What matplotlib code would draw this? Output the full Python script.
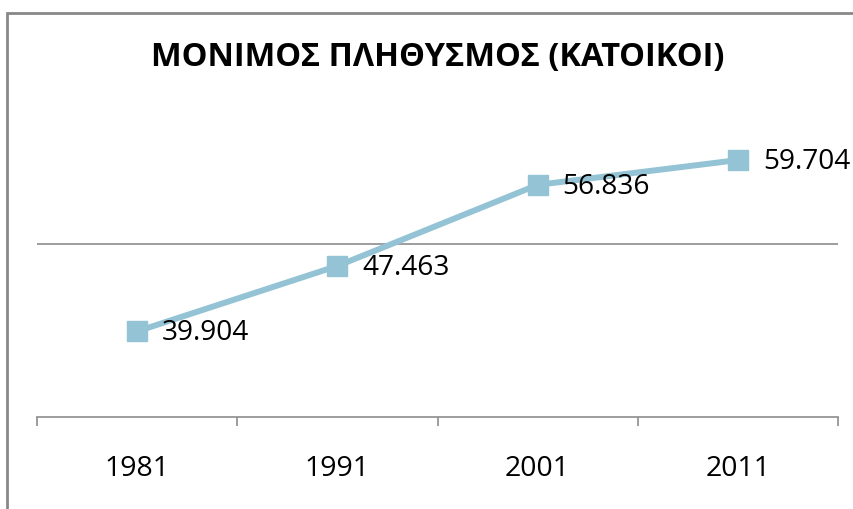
import matplotlib.pyplot as plt
from matplotlib.patches import Rectangle

years = ['1981', '1991', '2001', '2011']
population = [39.904, 47.463, 56.836, 59.704]
value_labels = ['39.904', '47.463', '56.836', '59.704']
title = 'ΜΟΝΙΜΟΣ ΠΛΗΘΥΣΜΟΣ (ΚΑΤΟΙΚΟΙ)'

plt.rcParams['font.family'] = ['Open Sans', 'DejaVu Sans']

fig = plt.figure(figsize=(8.54, 5.09), dpi=100)
ax = fig.add_axes([37/854, 1 - 417/509, (838 - 37)/854, (417 - 71)/509])

x = list(range(len(years)))
ax.plot(x, population, color='#93C3D5', lw=4.3, marker='s', ms=14.4,
        solid_capstyle='round', zorder=3)
for xi, yi, lab in zip(x, population, value_labels):
    ax.annotate(lab, (xi, yi), xytext=(18, -1.5), textcoords='offset points',
                ha='left', va='center', fontsize=20.2, color='black', zorder=4)

ax.set_xlim(-0.5, len(years) - 0.5)
ax.set_ylim(30, 70)
ax.axhline(50, color='#8C8C8C', lw=1.2, zorder=1)

ax.set_yticks([])
ax.set_xticks(x)
ax.set_xticklabels(years, fontsize=20.5)
ax.tick_params(axis='x', which='major', length=0, pad=27)
ax.set_xticks([i - 0.5 for i in range(len(years) + 1)], minor=True)
ax.tick_params(axis='x', which='minor', length=6.5, width=1.2, color='#8C8C8C', direction='out')

for s in ['top', 'right', 'left']:
    ax.spines[s].set_visible(False)
ax.spines['bottom'].set_color('#8C8C8C')
ax.spines['bottom'].set_linewidth(1.2)

fig.text(438/854, 1 - 58/509, title, ha='center', va='center',
         fontsize=23.5, fontweight='bold')

fig.patches.append(Rectangle((7/854, -0.1), 1.2, 1.1 - 13/509, transform=fig.transFigure,
                             fill=False, edgecolor='#888888', lw=2))

fig.savefig('out.png', dpi=100)
